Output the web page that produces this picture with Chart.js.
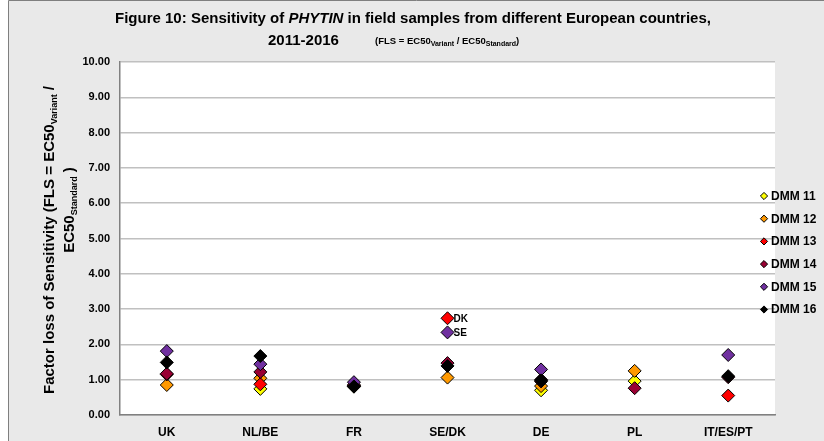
<!DOCTYPE html>
<html>
<head>
<meta charset="utf-8">
<script src="https://cdn.jsdelivr.net/npm/chart.js@4"></script>
<style>
  body { margin: 0; background: #ffffff; }
  #wrap { width: 824px; height: 441px; }
</style>
</head>
<body>
<div id="wrap"><canvas id="fls" width="824" height="441"></canvas></div>
<script>
// regions
const countries = ['UK', 'NL/BE', 'FR', 'SE/DK', 'DE', 'PL', 'IT/ES/PT'];

// FLS per season
const dmm11 = [null, 0.74, 0.80, null, 0.70, 0.96, null];
const dmm12 = [0.85, 1.04, 0.82, 1.06, 0.82, 1.25, null];
const dmm13 = [1.15, 0.87, 0.84, 2.74, 0.95, null, 0.55];
const dmm14 = [1.17, 1.22, 0.85, 1.47, 1.00, 0.76, 1.07];
const dmm15 = [1.81, 1.44, 0.93, 2.34, 1.29, null, 1.70];
const dmm16 = [1.49, 1.67, 0.81, 1.39, 0.98, null, 1.10];

const seriesNames = ['DMM 11', 'DMM 12', 'DMM 13', 'DMM 14', 'DMM 15', 'DMM 16'];
const seriesColors = ['#ffff00', '#ff9900', '#ff0000', '#990033', '#7030a0', '#000000'];

// point labels at SE/DK
const pointNotes = [
    { series: 2, index: 3, text: 'DK' },
    { series: 4, index: 3, text: 'SE' }
];

const yTicks = [0, 1, 2, 3, 4, 5, 6, 7, 8, 9, 10];

const FONT = '"Liberation Sans", Arial, sans-serif';

// draws text pieces (normal + subscripts) on one line
function richText(ctx, parts, x, y, align) {
    let total = 0;
    parts.forEach(p => {
        ctx.font = (p.style || 'bold') + ' ' + p.size + 'px ' + FONT;
        p.w = ctx.measureText(p.t).width;
        total += p.w;
    });
    let cx = align === 'center' ? x - total / 2 : x;
    ctx.textAlign = 'left';
    ctx.textBaseline = 'alphabetic';
    parts.forEach(p => {
        ctx.font = (p.style || 'bold') + ' ' + p.size + 'px ' + FONT;
        ctx.fillText(p.t, cx, y + (p.dy || 0));
        cx += p.w;
    });
}

const decorPlugin = {
    id: 'decor',
    beforeDraw(chart) {
        const ctx = chart.ctx;
        const a = chart.chartArea;
        ctx.save();
        ctx.fillStyle = '#ffffff';
        ctx.fillRect(0, 0, chart.width, chart.height);
        ctx.fillStyle = '#e9e9e9';
        ctx.fillRect(9, 1, chart.width - 9, chart.height - 1);
        ctx.strokeStyle = '#7f7f7f';
        ctx.lineWidth = 1;
        ctx.beginPath();
        ctx.moveTo(8.5, chart.height);
        ctx.lineTo(8.5, 0.5);
        ctx.lineTo(chart.width, 0.5);
        ctx.stroke();
        ctx.fillStyle = '#ffffff';
        ctx.fillRect(a.left, a.top, a.right - a.left, a.bottom - a.top);
        ctx.restore();
    },
    afterDraw(chart) {
        const ctx = chart.ctx;
        ctx.save();
        ctx.fillStyle = '#000000';

        // title
        richText(ctx, [
            { t: 'Figure 10: Sensitivity of ', size: 15 },
            { t: 'PHYTIN', size: 15, style: 'italic bold' },
            { t: ' in field samples from different European countries,', size: 15 }
        ], 413, 23, 'center');
        richText(ctx, [{ t: '2011-2016', size: 15 }], 268, 45, 'left');
        richText(ctx, [
            { t: '(FLS = EC50', size: 9.5 },
            { t: 'Variant', size: 7, dy: 2 },
            { t: ' / EC50', size: 9.5 },
            { t: 'Standard', size: 7, dy: 2 },
            { t: ')', size: 9.5 }
        ], 375, 44, 'left');

        // y axis title, two rotated lines
        ctx.save();
        ctx.translate(54, 240);
        ctx.rotate(-Math.PI / 2);
        richText(ctx, [
            { t: 'Factor loss of Sensitivity (FLS = EC50', size: 15 },
            { t: 'Variant', size: 9, dy: 3 },
            { t: ' /', size: 15 }
        ], 0, 0, 'center');
        ctx.restore();
        ctx.save();
        ctx.translate(74, 210);
        ctx.rotate(-Math.PI / 2);
        richText(ctx, [
            { t: 'EC50', size: 15 },
            { t: 'Standard', size: 9, dy: 3 },
            { t: ' )', size: 15 }
        ], 0, 0, 'center');
        ctx.restore();

        // notes next to points
        pointNotes.forEach(n => {
            const pt = chart.getDatasetMeta(n.series).data[n.index];
            ctx.font = 'bold 10px ' + FONT;
            ctx.textAlign = 'left';
            ctx.textBaseline = 'middle';
            ctx.fillStyle = '#000000';
            ctx.fillText(n.text, pt.x + 6, pt.y + 1);
        });

        // legend
        chart.data.datasets.forEach((ds, i) => {
            const ly = 196 + i * 22.7;
            const lx = 764;
            const r = 3.6;
            ctx.beginPath();
            ctx.moveTo(lx, ly - r);
            ctx.lineTo(lx + r, ly);
            ctx.lineTo(lx, ly + r);
            ctx.lineTo(lx - r, ly);
            ctx.closePath();
            ctx.fillStyle = ds.backgroundColor;
            ctx.fill();
            ctx.lineWidth = 1;
            ctx.strokeStyle = '#000000';
            ctx.stroke();
            ctx.fillStyle = '#000000';
            ctx.font = 'bold 12px ' + FONT;
            ctx.textAlign = 'left';
            ctx.textBaseline = 'middle';
            ctx.fillText(ds.label, lx + 7, ly + 0.5);
        });
        ctx.restore();
    }
};

const allSeries = [dmm11, dmm12, dmm13, dmm14, dmm15, dmm16];
const datasets = allSeries.map((vals, i) => ({
    label: seriesNames[i],
    data: vals,
    showLine: false,
    pointStyle: 'rectRot',
    pointRadius: 6.5,
    pointHoverRadius: 6.5,
    backgroundColor: seriesColors[i],
    borderColor: '#000000',
    pointBorderWidth: 1,
    order: allSeries.length - i
}));

new Chart(document.getElementById('fls'), {
    type: 'line',
    data: { labels: countries, datasets: datasets },
    options: {
        responsive: false,
        animation: false,
        layout: { padding: { left: 0, right: 49, top: 62, bottom: 0 } },
        plugins: {
            legend: { display: false },
            tooltip: { enabled: false },
            title: { display: false }
        },
        scales: {
            x: {
                offset: true,
                grid: { display: false, drawTicks: false },
                border: { display: true, color: '#808080', width: 1.5 },
                ticks: {
                    color: '#000000',
                    font: { family: FONT, size: 12, weight: 'bold' },
                    padding: 10,
                    maxRotation: 0
                },
                afterFit(scale) { scale.height = 26; }
            },
            y: {
                min: 0,
                max: 10,
                afterBuildTicks(scale) {
                    scale.ticks = yTicks.map(v => ({ value: v }));
                },
                grid: { color: '#c0c0c0', lineWidth: 1.5, drawTicks: false },
                border: { display: true, color: '#808080', width: 1.5 },
                ticks: {
                    color: '#000000',
                    font: { family: FONT, size: 11, weight: 'bold' },
                    padding: 10,
                    callback: v => Number(v).toFixed(2)
                },
                afterFit(scale) { scale.width = 120; }
            }
        }
    },
    plugins: [decorPlugin]
});
</script>
</body>
</html>
